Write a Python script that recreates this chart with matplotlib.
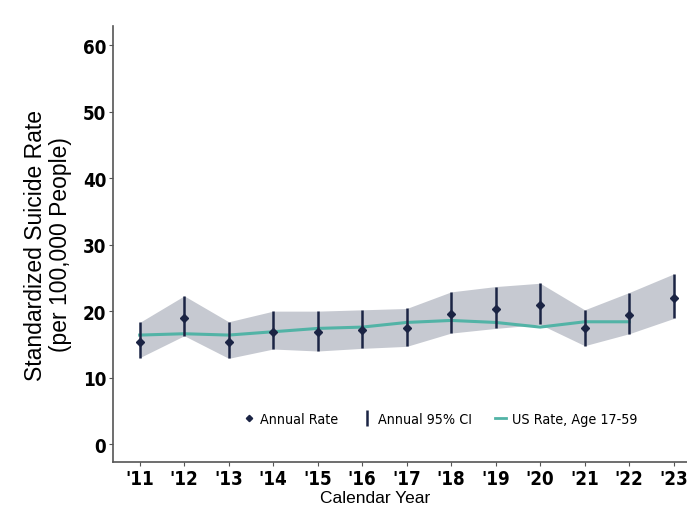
import matplotlib
matplotlib.use("Agg")
import matplotlib.pyplot as plt
from matplotlib.lines import Line2D
import numpy as np

# データ
years = [2011, 2012, 2013, 2014, 2015, 2016, 2017, 2018, 2019, 2020, 2021, 2022, 2023]
tick_labels = ["'11", "'12", "'13", "'14", "'15", "'16", "'17", "'18", "'19", "'20", "'21", "'22", "'23"]
rate = [15.4, 19.0, 15.4, 16.8, 16.8, 17.1, 17.4, 19.5, 20.3, 20.9, 17.4, 19.4, 22.0]
ci_low = [13.0, 16.3, 12.9, 14.3, 14.0, 14.4, 14.7, 16.7, 17.4, 18.0, 14.8, 16.6, 18.9]
ci_high = [18.3, 22.3, 18.4, 20.0, 20.0, 20.2, 20.4, 22.9, 23.7, 24.2, 20.2, 22.8, 25.6]
us_years = [2011, 2012, 2013, 2014, 2015, 2016, 2017, 2018, 2019, 2020, 2021, 2022]
us_rate = [16.4, 16.6, 16.4, 16.9, 17.4, 17.6, 18.3, 18.6, 18.3, 17.6, 18.4, 18.4]

navy = "#1b2444"
teal = "#52b3a6"
band = "#c6c9d1"

plt.rcParams["font.family"] = ["Liberation Sans", "DejaVu Sans"]
narrow = ["DejaVu Sans"]

fig = plt.figure(figsize=(6.87, 5.06), dpi=100)
ax = fig.add_axes([0.1645, 0.085, 0.8355, 0.8615])

y = np.array(rate)
lo = np.array(ci_low)
hi = np.array(ci_high)

ax.fill_between(years, lo, hi, color=band, lw=0, zorder=1)
ax.plot(us_years, us_rate, color=teal, lw=2.2, zorder=2)
ax.vlines(years, lo, hi, color=navy, lw=1.8, zorder=3)
ax.plot(years, y, "D", color=navy, ms=4, zorder=4)

ax.set_xlim(2010.4, 2023.3)
ax.set_ylim(-2.7, 62.9)
ax.set_xticks(years)
ax.set_xticklabels(tick_labels)
ax.set_yticks([0, 10, 20, 30, 40, 50, 60])
for lab in ax.get_xticklabels() + ax.get_yticklabels():
    lab.set_fontfamily(narrow)
    lab.set_fontstretch("condensed")
    lab.set_fontweight("bold")
    lab.set_fontsize(13.5)
ax.tick_params(axis="both", length=3, width=0.8, color="#555555", pad=2)

for s in ["top", "right"]:
    ax.spines[s].set_visible(False)
for s in ["left", "bottom"]:
    ax.spines[s].set_color("#555555")
    ax.spines[s].set_linewidth(1.2)

ax.set_ylabel("Standardized Suicide Rate\n(per 100,000 People)", fontsize=16.5, linespacing=1.1)
ax.yaxis.set_label_coords(-0.071, 0.5)
ax.set_xlabel("Calendar Year", fontsize=12.5)
ax.xaxis.set_label_coords(0.456, -0.064)

handles = [
    Line2D([], [], marker="D", color=navy, ls="none", ms=3.2),
    Line2D([], [], marker="|", color=navy, ls="none", ms=11, mew=1.8),
    Line2D([], [], color=teal, lw=2),
]
ax.legend(handles, ["Annual Rate", "Annual 95% CI", "US Rate, Age 17-59"],
          loc="center", bbox_to_anchor=(0.570, 0.0986), ncol=3, frameon=False,
          handlelength=0.8, handletextpad=0.4, columnspacing=1.6,
          prop={"family": narrow, "stretch": "condensed", "size": 10.3})

fig.savefig("out.png", dpi=100)
